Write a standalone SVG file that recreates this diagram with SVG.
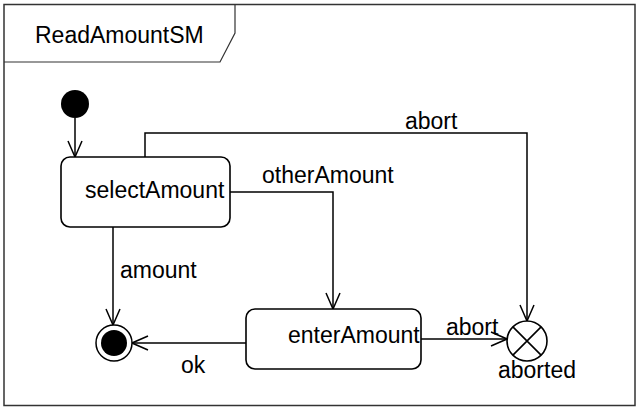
<svg xmlns="http://www.w3.org/2000/svg" width="637" height="410" viewBox="0 0 637 410">
<defs>
<marker id="arr" viewBox="0 0 18 16" refX="17" refY="8" markerWidth="18" markerHeight="16" markerUnits="userSpaceOnUse" orient="auto">
<path d="M1,1 L17,8 L1,15" fill="none" stroke="#000" stroke-width="1.5"/>
</marker>
<style>
text{font-family:"Liberation Sans",Arial,sans-serif;font-size:23px;fill:#000}
.st{fill:#fff;stroke:#000;stroke-width:1.6}
.ln{fill:none;stroke:#000;stroke-width:1.5;marker-end:url(#arr)}
</style>
</defs>
<rect width="637" height="410" fill="#fff"/>
<g id="frame">
<rect x="4" y="4.5" width="631" height="401" fill="none" stroke="#333" stroke-width="1.5"/>
<path d="M4,62 L220,62 L235,33 L235,4.5" fill="none" stroke="#333" stroke-width="1.2"/>
<text x="35" y="42.5">ReadAmountSM</text>
</g>
<g id="connectors">
<line class="ln" x1="75" y1="118" x2="75" y2="157"/>
<polyline class="ln" points="145,157 145,133 527,133 527,321"/>
<polyline class="ln" points="230,192 333,192 333,309"/>
<line class="ln" x1="113" y1="227" x2="113" y2="325"/>
<line class="ln" x1="246" y1="343" x2="132" y2="343"/>
<line class="ln" x1="421" y1="339" x2="507" y2="339"/>
<text x="405" y="129">abort</text>
<text x="262" y="183">otherAmount</text>
<text x="120" y="278">amount</text>
<text x="181" y="373">ok</text>
<text x="446" y="335">abort</text>
</g>
<g id="initial">
<circle cx="75" cy="104" r="14" fill="#000"/>
</g>
<g id="selectAmount">
<rect class="st" x="61" y="157" width="169" height="70" rx="9"/>
<text x="85" y="198">selectAmount</text>
</g>
<g id="enterAmount">
<rect class="st" x="246" y="309" width="175" height="60" rx="9"/>
<text x="288" y="343">enterAmount</text>
</g>
<g id="final">
<circle cx="114" cy="343" r="18" fill="#fff" stroke="#000" stroke-width="1.5"/>
<circle cx="114" cy="343" r="13" fill="#000"/>
</g>
<g id="aborted">
<circle cx="527" cy="341" r="20" fill="#fff" stroke="#000" stroke-width="1.6"/>
<path d="M512.9,326.9 L541.1,355.1 M541.1,326.9 L512.9,355.1" stroke="#000" stroke-width="1.6"/>
<text x="498" y="378">aborted</text>
</g>
</svg>
